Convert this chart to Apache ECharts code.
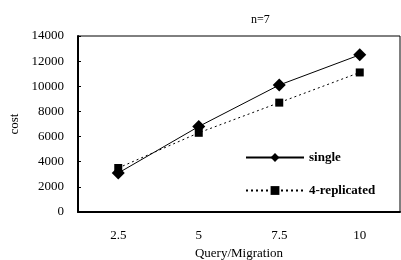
<!DOCTYPE html>
<html>
<head>
<meta charset="utf-8">
<script src="https://cdn.jsdelivr.net/npm/echarts@6/dist/echarts.min.js"></script>
<style>
html, body { margin: 0; padding: 0; background: #fff; }
#main { width: 401px; height: 260px; }
</style>
</head>
<body>
<div id="main"></div>
<script>
var categories = ['2.5', '5', '7.5', '10']
var single = [3100, 6800, 10100, 12500]
var replicated = [3500, 6300, 8700, 11100]
var yTicks = [0, 2000, 4000, 6000, 8000, 10000, 12000, 14000]

var font = 'Liberation Serif'
var chart = echarts.init(document.getElementById('main'))
chart.setOption({
  animation: false,
  title: {
    text: 'n=7',
    left: 246,
    top: 9,
    textStyle: { fontFamily: font, fontSize: 12, fontWeight: 'normal', color: '#000' }
  },
  grid: {
    left: 78,
    right: 1,
    top: 36,
    bottom: 48,
    outerBoundsMode: 'none',
    containLabel: false,
    show: true,
    borderColor: '#000',
    borderWidth: 1
  },
  legend: {
    orient: 'vertical',
    left: 240,
    top: 146,
    itemWidth: 58,
    itemHeight: 11,
    itemGap: 20,
    textStyle: { fontFamily: font, fontSize: 13, fontWeight: 'bold', color: '#000' },
    data: ['single', '4-replicated']
  },
  xAxis: {
    type: 'category',
    data: categories,
    name: 'Query/Migration',
    nameLocation: 'middle',
    nameGap: 34,
    nameTextStyle: { fontFamily: font, fontSize: 13, color: '#000' },
    axisLine: { lineStyle: { color: '#000', width: 2 } },
    axisTick: { inside: true, length: 3, lineStyle: { color: '#000' } },
    axisLabel: { fontFamily: font, fontSize: 13, color: '#000', margin: 17 }
  },
  yAxis: {
    type: 'value',
    min: yTicks[0],
    max: yTicks[yTicks.length - 1],
    interval: 2000,
    name: 'cost',
    nameLocation: 'middle',
    nameGap: 47,
    nameTextStyle: { fontFamily: font, fontSize: 13, color: '#000' },
    axisLine: { show: true, lineStyle: { color: '#000', width: 2 } },
    axisTick: { show: true, inside: true, length: 3, lineStyle: { color: '#000' } },
    splitLine: { show: false },
    axisLabel: {
      fontFamily: font,
      fontSize: 13,
      color: '#000',
      margin: 14,
      formatter: function (v) { return String(v) }
    }
  },
  series: [
    {
      name: 'single',
      type: 'line',
      data: single,
      symbol: 'diamond',
      symbolSize: 13,
      itemStyle: { color: '#000' },
      lineStyle: { color: '#000', width: 1 }
    },
    {
      name: '4-replicated',
      type: 'line',
      data: replicated,
      symbol: 'rect',
      symbolSize: 8,
      itemStyle: { color: '#000' },
      lineStyle: { color: '#000', width: 1, type: [2, 3] }
    }
  ]
})
</script>
</body>
</html>
